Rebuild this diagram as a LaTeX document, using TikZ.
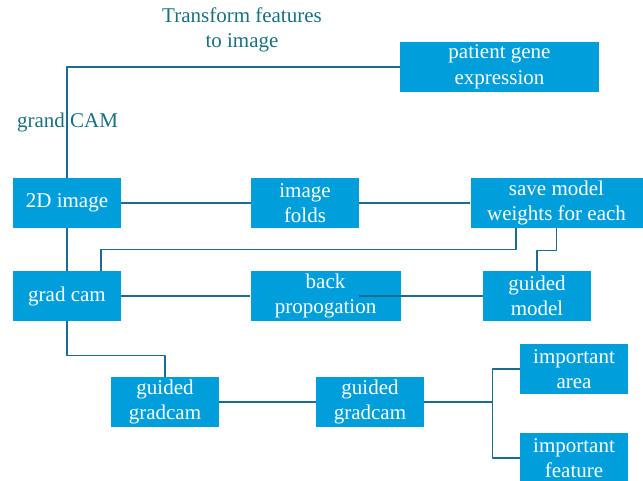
\documentclass[tikz,border=0pt]{standalone}
\usepackage{tikz}
\usepackage{fontspec}
\setmainfont{Liberation Serif}
\usetikzlibrary{positioning,calc}
\definecolor{boxblue}{RGB}{0,158,219}
\definecolor{linkteal}{RGB}{27,108,147}
\definecolor{labelteal}{RGB}{24,112,128}

\begin{document}
\begin{tikzpicture}[x=1pt, y=-1pt, line join=round,
  box/.style={fill=boxblue, text=white, align=center, inner sep=0pt,
    minimum width=108pt, minimum height=50pt, font=\fontsize{21}{25.5}\selectfont},
  lbl/.style={text=labelteal, align=center, inner sep=0pt, font=\fontsize{21}{25.5}\selectfont},
  link/.style={draw=linkteal, line width=1.2pt}]
\useasboundingbox (0,0) rectangle (643,481);
\clip (0,0) rectangle (643,481);
\node[box, minimum width=199pt] (gene)    at (499.5,67)  {patient gene\\expression};
\node[box]                      (img)     at (67,203)    {2D image};
\node[box]                      (folds)   at (305,203)   {image\\folds};
\node[box, minimum width=172pt] (save)    at (556.5,203) {save model\\weights for each};
\node[box]                      (gcam)    at (67,296)    {grad cam};
\node[box, minimum width=150pt] (back)    at (325.5,296) {back\\propogation};
\node[box]                      (gmodel)  at (537,296)   {guided\\model};
\node[box]                      (ggcamA)  at (165,402)   {guided\\gradcam};
\node[box]                      (ggcamB)  at (370,402)   {guided\\gradcam};
\node[box]                      (area)    at (574,369)   {important\\area};
\node[box]                      (feature) at (574,458)   {important\\feature};
\node[lbl] (trans) at (242,30)  {Transform features\\to image};
\node[lbl] (grand) at (67.5,122) {grand CAM};
\coordinate (fork) at ($(ggcamB.east)+(68,0)$);
\draw[link] (img.north) |- (gene.west);
\draw[link] (img.east) -- (folds.west);
\draw[link] (folds.east) -- (save.west);
\draw[link] (img.south) -- (gcam.north);
\draw[link] ([xshift=-40.5pt]save.south) -- ++(0,21) -| ([xshift=34pt]gcam.north);
\draw[link] (save.south) -- ++(0,22) -| (gmodel.north);
\draw[link] (gcam.east) -- (back.west);
\draw[link] (gmodel.west) -- (folds.east |- gmodel.west);
\draw[link] (gcam.south) -- ++(0,34) -| (ggcamA.north);
\draw[link] (ggcamA.east) -- (ggcamB.west);
\draw[link] (ggcamB.east) -- (fork);
\draw[link] (area.west) -| (fork) |- (feature.west);
\end{tikzpicture}
\end{document}
